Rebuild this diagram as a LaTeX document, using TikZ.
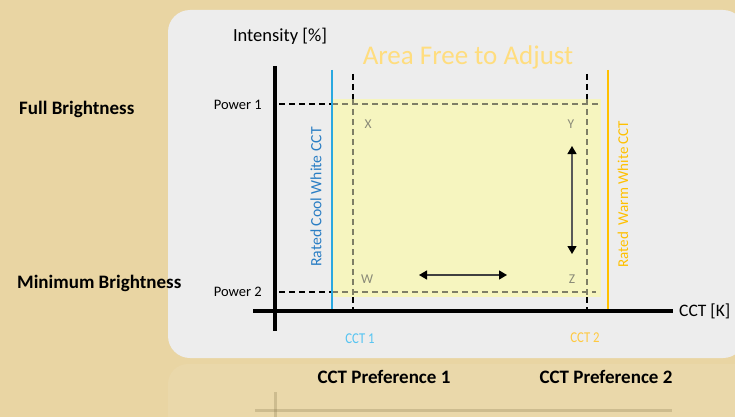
\documentclass[tikz,border=0pt]{standalone}
\usepackage{fontspec}
\setmainfont{Carlito}
\usetikzlibrary{arrows.meta}
\definecolor{papyrus}{HTML}{E9D5A3}
\definecolor{panelc}{HTML}{EDEDED}
\definecolor{areac}{HTML}{F6F5BF}
\definecolor{dashol}{HTML}{7E7E66}
\definecolor{cornerc}{HTML}{8A8A78}
\definecolor{coolc}{HTML}{29A8E0}
\definecolor{cooltxt}{HTML}{2A7EC4}
\definecolor{warmc}{HTML}{FFC000}
\definecolor{areatxt}{HTML}{FFDD7E}
\definecolor{cct1c}{HTML}{55C4F2}
\definecolor{cct2c}{HTML}{FFC940}
\definecolor{ghostc}{HTML}{7A6A40}
\begin{document}
\begin{tikzpicture}[x=1pt,y=-1pt,
  axis/.style={line width=3.5pt,black},
  bdash/.style={line width=1.8pt,black,dash pattern=on 6pt off 4pt},
  odash/.style={line width=1.8pt,dashol,dash pattern=on 6pt off 4pt},
  lbl/.style={inner sep=0pt,font=\fontsize{14.5}{17}\selectfont},
  corner/.style={inner sep=0pt,text=cornerc,font=\fontsize{13.5}{16}\selectfont},
  side/.style={inner sep=0pt,font=\bfseries\fontsize{19}{22}\selectfont},
  dbl/.style={{Triangle[length=8pt,width=9pt,color=black]}-{Triangle[length=8pt,width=9pt,color=black]},line width=1.3pt}
]
\useasboundingbox (0,0) rectangle (735,417);
\fill[papyrus] (0,0) rectangle (735,417);
% faint reflection below the panel
\fill[white,opacity=0.08,rounded corners=20pt] (168,364) rectangle (760,450);
\draw[ghostc,opacity=0.25,line width=3pt] (255,410) -- (672,410);
\draw[ghostc,opacity=0.25,line width=3pt] (275,392) -- (275,417);
% panel
\fill[panelc,rounded corners=22pt] (168,10) rectangle (745,358);
% free area
\fill[areac] (332,99) rectangle (601,297);
% coordinates
\coordinate (ytop) at (275,66);
\coordinate (ybot) at (275,331);
\coordinate (xs) at (253,311);
\coordinate (xe) at (673,311);
\coordinate (b1) at (332,70);  \coordinate (b2) at (332,311);
\coordinate (o1) at (608,70);  \coordinate (o2) at (608,311);
\coordinate (l1) at (353,74);  \coordinate (l2) at (353,99);
\coordinate (l3) at (353,297); \coordinate (l4) at (353,311);
\coordinate (r1) at (587,74);  \coordinate (r2) at (587,99);
\coordinate (r3) at (587,297); \coordinate (r4) at (587,311);
\coordinate (p1a) at (279,104); \coordinate (p1b) at (332,104); \coordinate (p1c) at (600,104);
\coordinate (p2a) at (279,292); \coordinate (p2b) at (332,292); \coordinate (p2c) at (596,292);
\coordinate (va) at (572,146); \coordinate (vb) at (572,254);
\coordinate (ha) at (419,275); \coordinate (hb) at (507,275);
% dashed guides
\draw[bdash] (p1a) -- (p1b);
\draw[odash] (p1b) -- (p1c);
\draw[bdash] (p2a) -- (p2b);
\draw[odash] (p2b) -- (p2c);
\draw[bdash] (l1) -- (l2);
\draw[odash] (l2) -- (l3);
\draw[bdash] (l3) -- (l4);
\draw[bdash] (r1) -- (r2);
\draw[odash] (r2) -- (r3);
\draw[bdash] (r3) -- (r4);
% rated lines
\draw[line width=2pt,coolc] (b1) -- (b2);
\draw[line width=2pt,warmc] (o1) -- (o2);
% axes
\draw[axis] (ytop) -- (ybot);
\draw[axis] (xs) -- (xe);
% arrows
\draw[dbl,draw=gray!70!black] (va) -- (vb);
\draw[dbl,draw=black!75] (ha) -- (hb);
% texts
\node[inner sep=0pt,font=\fontsize{18.5}{22}\selectfont] (int) at (280,36) {Intensity [\%]};
\node[inner sep=0pt,text=areatxt,font=\fontsize{27}{32}\selectfont] (area) at (468,57) {Area Free to Adjust};
\node[inner sep=0pt,anchor=west,font=\fontsize{17.5}{21}\selectfont] (cctk) at (679,311) {CCT [K]};
\node[lbl,anchor=east] (pw1) at (262,105) {Power 1};
\node[lbl,anchor=east] (pw2) at (262,292) {Power 2};
\node[corner] (cx) at (368,124) {X};
\node[corner] (cy) at (571,124) {Y};
\node[corner] (cw) at (367,279) {W};
\node[corner] (cz) at (572,279) {Z};
\node[inner sep=0pt,rotate=90,text=cooltxt,font=\fontsize{15.7}{18}\selectfont] (cool) at (316,197) {Rated Cool White CCT};
\node[inner sep=0pt,rotate=90,text=warmc,font=\fontsize{15}{18}\selectfont] (warm) at (623,194) {Rated\ \ Warm White CCT};
\node[inner sep=0pt,text=cct1c,font=\fontsize{15}{18}\selectfont] (cct1) at (360,339) {\scalebox{0.85}[1]{CCT 1}};
\node[inner sep=0pt,text=cct2c,font=\fontsize{15}{18}\selectfont] (cct2) at (585,338) {\scalebox{0.85}[1]{CCT 2}};
\node[side] (pref1) at (384,377) {CCT Preference 1};
\node[side] (pref2) at (606,377) {CCT Preference 2};
\node[side,anchor=west] (full) at (19,109) {Full Brightness};
\node[side,anchor=west] (minb) at (17,283) {Minimum Brightness};
\end{tikzpicture}
\end{document}
